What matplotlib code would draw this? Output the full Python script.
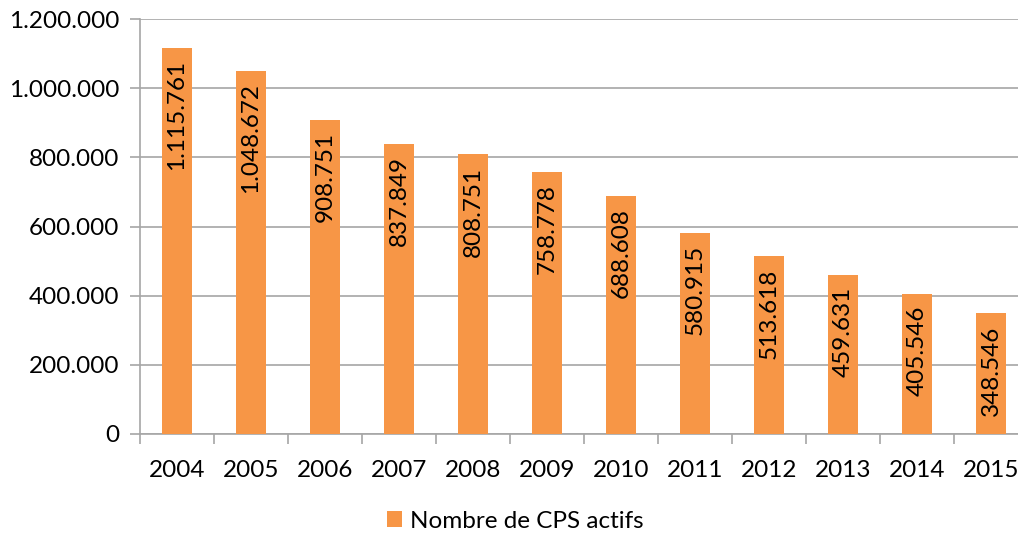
import matplotlib
matplotlib.use('Agg')
import matplotlib.pyplot as plt
from matplotlib.ticker import FuncFormatter, FixedLocator

plt.rcParams['font.family'] = ['Lato', 'DejaVu Sans']

annees = ['2004', '2005', '2006', '2007', '2008', '2009', '2010', '2011', '2012', '2013', '2014', '2015']
cps_actifs = [1115761, 1048672, 908751, 837849, 808751, 758778, 688608, 580915, 513618, 459631, 405546, 348546]
legende = 'Nombre de CPS actifs'

orange = '#F79646'
gris = '#A6A6A6'
taille = 17.5


def fmt(v):
    return f'{int(v):,}'.replace(',', '.')


fig = plt.figure(figsize=(10.18, 5.37), dpi=100)
ax = fig.add_axes([140 / 1018, 1 - 434 / 537, 888 / 1018, 415 / 537])

x = range(len(annees))
barres = ax.bar(x, cps_actifs, width=0.4, color=orange, label=legende, zorder=3)

for i, v in enumerate(cps_actifs):
    ax.text(i, v - 35000, fmt(v), rotation=90, ha='center', va='top',
            fontsize=taille, color='black', zorder=4)

ax.set_xlim(-0.5, len(annees) - 0.5)
ax.set_ylim(0, 1200000)
ax.set_yticks(range(0, 1200001, 200000))
ax.yaxis.set_major_formatter(FuncFormatter(lambda v, p: fmt(v)))
ax.set_xticks(list(x))
ax.set_xticklabels(annees)
ax.xaxis.set_minor_locator(FixedLocator([i - 0.5 for i in range(len(annees) + 1)]))
ax.tick_params(axis='x', which='major', length=0, pad=19, labelsize=taille)
ax.tick_params(axis='x', which='minor', length=7, color=gris, width=1.2)
ax.tick_params(axis='y', length=7, color=gris, width=1.2, labelsize=taille, pad=8)

ax.grid(axis='y', color=gris, linewidth=1.2, zorder=0)
for s in ['top', 'right']:
    ax.spines[s].set_visible(False)
for s in ['left', 'bottom']:
    ax.spines[s].set_color(gris)
    ax.spines[s].set_linewidth(1.2)

fig.legend(handles=[barres], labels=[legende], loc='center', bbox_to_anchor=(515 / 1018, 1 - 521 / 537),
           frameon=False, fontsize=taille, handlelength=0.65, handleheight=0.65, handletextpad=0.3)

fig.savefig('out.png', dpi=100)
